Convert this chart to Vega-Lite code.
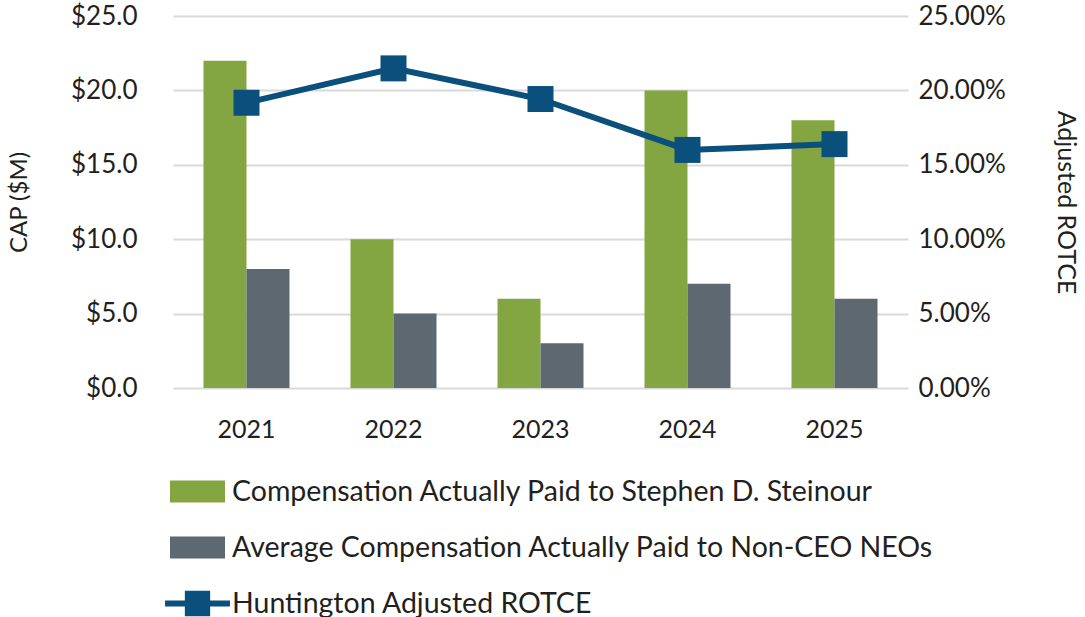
{
  "$schema": "https://vega.github.io/schema/vega-lite/v6.json",
  "width": 735,
  "height": 372,
  "autosize": {"type": "none"},
  "padding": {"left": 173, "top": 16, "right": 177, "bottom": 229},
  "background": "white",
  "config": {
    "view": {"stroke": null},
    "font": "Lato",
    "axis": {"labelFont": "Lato", "titleFont": "Lato", "labelColor": "#231F20", "titleColor": "#231F20", "titleFontWeight": "normal"}
  },
  "datasets": {
    "bars": [
      {"year": "2021", "series": "Compensation Actually Paid to Stephen D. Steinour", "value": 22},
      {"year": "2021", "series": "Average Compensation Actually Paid to Non-CEO NEOs", "value": 8},
      {"year": "2022", "series": "Compensation Actually Paid to Stephen D. Steinour", "value": 10},
      {"year": "2022", "series": "Average Compensation Actually Paid to Non-CEO NEOs", "value": 5},
      {"year": "2023", "series": "Compensation Actually Paid to Stephen D. Steinour", "value": 6},
      {"year": "2023", "series": "Average Compensation Actually Paid to Non-CEO NEOs", "value": 3},
      {"year": "2024", "series": "Compensation Actually Paid to Stephen D. Steinour", "value": 20},
      {"year": "2024", "series": "Average Compensation Actually Paid to Non-CEO NEOs", "value": 7},
      {"year": "2025", "series": "Compensation Actually Paid to Stephen D. Steinour", "value": 18},
      {"year": "2025", "series": "Average Compensation Actually Paid to Non-CEO NEOs", "value": 6}
    ],
    "rotce": [
      {"year": "2021", "rotce": 0.1917},
      {"year": "2022", "rotce": 0.2148},
      {"year": "2023", "rotce": 0.1942},
      {"year": "2024", "rotce": 0.1600},
      {"year": "2025", "rotce": 0.1639}
    ]
  },
  "layer": [
    {
      "data": {"name": "bars"},
      "mark": {"type": "bar"},
      "encoding": {
        "x": {"field": "year", "type": "nominal", "scale": {"paddingInner": 0.415, "paddingOuter": 0.2075},
          "axis": {"title": null, "domain": false, "ticks": false, "grid": false, "labelAngle": 0, "labelFontSize": 25, "labelPadding": 29}},
        "xOffset": {"field": "series", "type": "nominal", "sort": ["Compensation Actually Paid to Stephen D. Steinour", "Average Compensation Actually Paid to Non-CEO NEOs"], "scale": {"paddingInner": 0, "paddingOuter": 0}},
        "y": {"field": "value", "type": "quantitative", "scale": {"domain": [0, 25], "nice": false},
          "axis": {"title": "CAP ($M)", "values": [0, 5, 10, 15, 20, 25], "format": "$.1f", "domain": false, "ticks": false, "grid": true, "gridColor": "#D9D9D9", "gridWidth": 2, "labelFontSize": 26, "labelPadding": 36, "titleFontSize": 24, "titlePadding": 39}},
        "color": {"field": "series", "type": "nominal",
          "scale": {"domain": ["Compensation Actually Paid to Stephen D. Steinour", "Average Compensation Actually Paid to Non-CEO NEOs", "Huntington Adjusted ROTCE"], "range": ["#84A642", "#5D6871", "#0B4F7D"]},
          "legend": {"title": null, "orient": "none", "legendX": -3, "legendY": 448, "direction": "vertical", "padding": 0, "rowPadding": 14, "symbolSize": 3025, "labelFontSize": 28.5, "labelFont": "Lato", "labelColor": "#231F20", "labelOffset": 7, "labelLimit": 0,
            "encode": {"symbols": {"update": {
              "shape": {"signal": "datum.value === 'Huntington Adjusted ROTCE' ? 'M-1.18,-0.11H1.18V0.11H-1.18Z M-0.46,-0.46H0.46V0.46H-0.46Z' : 'M-1,-0.4H1V0.4H-1Z'"},
              "fill": {"scale": "color", "field": "value"},
              "stroke": {"value": "transparent"},
              "strokeWidth": {"value": 0},
              "opacity": {"value": 1},
              "fillOpacity": {"value": 1}
            }}}}
        }
      }
    },
    {
      "data": {"name": "rotce"},
      "layer": [
        {
          "mark": {"type": "line", "strokeWidth": 6},
          "encoding": {
            "x": {"field": "year", "type": "nominal"},
            "y": {"field": "rotce", "type": "quantitative", "scale": {"domain": [0, 0.25], "nice": false},
              "axis": {"orient": "right", "title": "Adjusted ROTCE", "values": [0, 0.05, 0.1, 0.15, 0.2, 0.25], "format": ".2%", "domain": false, "ticks": false, "grid": false, "labelFontSize": 26, "labelPadding": 10, "titleFontSize": 25, "titlePadding": 47}},
            "color": {"datum": "Huntington Adjusted ROTCE"}
          }
        },
        {
          "mark": {"type": "point", "shape": "square", "filled": true, "size": 676, "opacity": 1},
          "encoding": {
            "x": {"field": "year", "type": "nominal"},
            "y": {"field": "rotce", "type": "quantitative"},
            "color": {"datum": "Huntington Adjusted ROTCE"}
          }
        }
      ]
    }
  ],
  "resolve": {"scale": {"y": "independent"}}
}
